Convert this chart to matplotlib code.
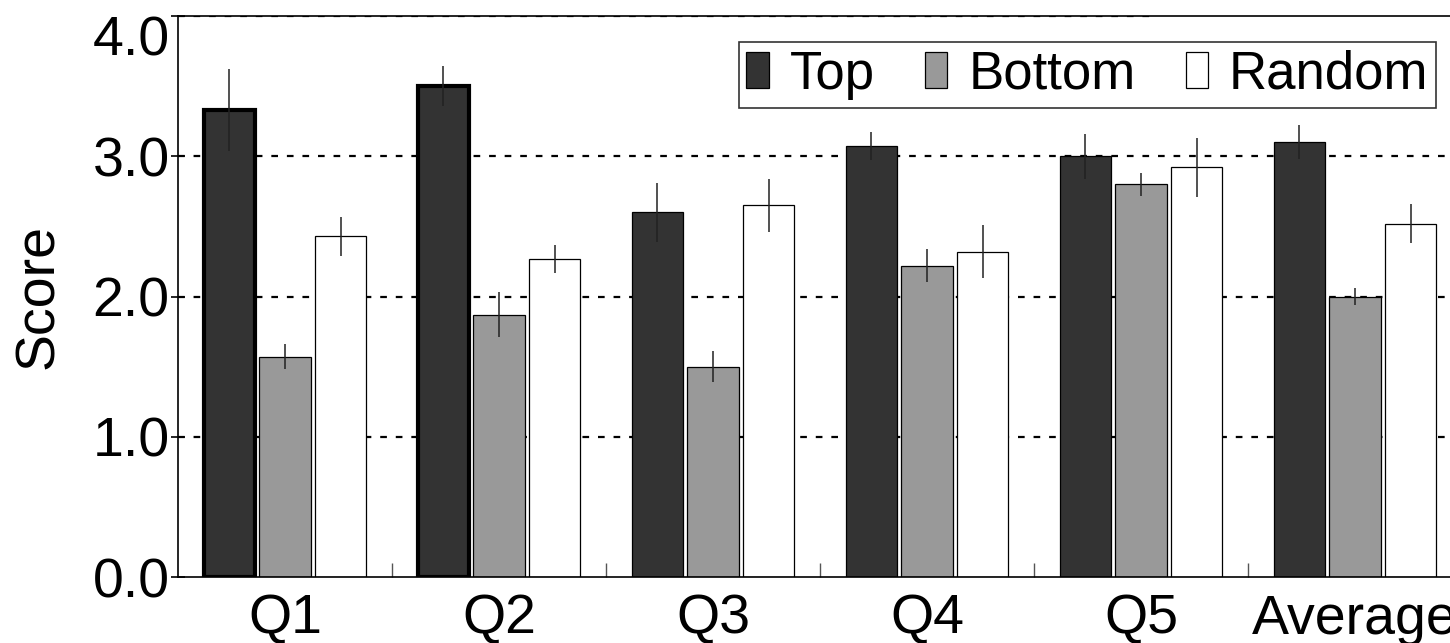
import numpy as np
import matplotlib.pyplot as plt

plt.rcParams['font.family'] = ['Liberation Sans', 'DejaVu Sans']

groups = ['Q1', 'Q2', 'Q3', 'Q4', 'Q5', 'Average']
top = [3.33, 3.50, 2.60, 3.07, 3.00, 3.10]
top_err = [0.29, 0.14, 0.21, 0.10, 0.16, 0.12]
bottom = [1.57, 1.87, 1.50, 2.22, 2.80, 2.00]
bottom_err = [0.09, 0.16, 0.11, 0.12, 0.08, 0.06]
random_ = [2.43, 2.27, 2.65, 2.32, 2.92, 2.52]
random_err = [0.14, 0.10, 0.19, 0.19, 0.21, 0.14]
yticks = [0, 1, 2, 3, 4]
ytick_labels = ['0.0', '1.0', '2.0', '3.0', '4.0']

x = np.arange(len(groups))
w = 0.24
step = 0.26

fig = plt.figure(figsize=(14.5, 6.43), dpi=100)
# axes runs a little past the right edge of the figure
ax = fig.add_axes([178 / 1450, 66 / 643, 1284 / 1450, 561 / 643])

series = [
    (top, top_err, '#333333', 'Top', -step),
    (bottom, bottom_err, '#999999', 'Bottom', 0),
    (random_, random_err, '#ffffff', 'Random', step),
]

# dotted grid behind the bars
for yv in yticks[1:4]:
    ax.axhline(yv, color='black', linestyle=(0, (3, 4)), lw=1.6, zorder=0)
ax.axhline(yticks[-1], xmax=0.761, color='black', linestyle=(0, (3, 4)),
           lw=1.6, zorder=1)

top_bars = None
for vals, errs, col, lab, off in series:
    bars = ax.bar(x + off, vals, w, color=col, edgecolor='black', lw=0.9,
                  label=lab, zorder=2)
    ax.errorbar(x + off, vals, yerr=errs, fmt='none', ecolor='#222222',
                elinewidth=1.1, capsize=0, zorder=3)
    if lab == 'Top':
        top_bars = bars

ax.set_xlim(-0.5, 5.5)
ax.set_ylim(0, 4.0)
ax.set_yticks(yticks)
ax.set_yticklabels(ytick_labels, fontsize=40)
# keep the top label inside the figure
ax.get_yticklabels()[-1].set_verticalalignment('top')
ax.set_xticks(x)
ax.set_xticklabels(groups, fontsize=40)
ax.set_xticks(x[:-1] + 0.5, minor=True)
ax.tick_params(axis='x', which='major', length=0, pad=12)
ax.tick_params(axis='x', which='minor', direction='in', length=10,
               width=1, color='#555555')
ax.tick_params(axis='y', direction='inout', length=10, width=1.2, pad=1)
ax.set_ylabel('Score', fontsize=40, labelpad=20)

for s in ax.spines.values():
    s.set_linewidth(1.2)

leg = ax.legend(loc='upper right', bbox_to_anchor=(0.980, 0.954),
                ncol=3, fontsize=38, frameon=True, fancybox=False,
                edgecolor='black', handlelength=0.42, handleheight=0.66,
                handletextpad=0.4, columnspacing=0.95, borderpad=0.15,
                borderaxespad=0)
leg.get_frame().set_linewidth(1.2)

# first two dark bars have a heavier outline
for b in top_bars[:2]:
    b.set_linewidth(3)

fig.savefig('out.png', dpi=100)
